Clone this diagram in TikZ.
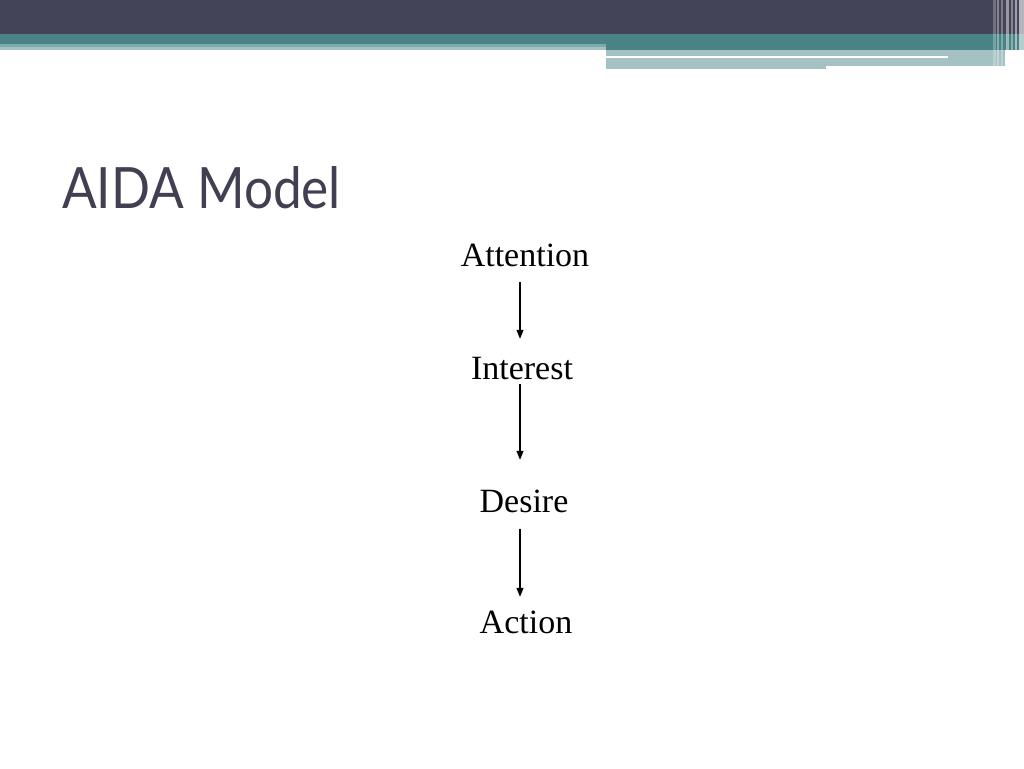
\documentclass[tikz,border=0pt]{standalone}
\usepackage{fontspec}
\setmainfont{Liberation Serif}
\newfontfamily\titlefont{Lato}
\usetikzlibrary{arrows.meta}
\definecolor{darkbar}{HTML}{444458}
\definecolor{tealbar}{HTML}{4A8385}
\definecolor{lightbar}{HTML}{A4C1C4}
\definecolor{midbar}{HTML}{7FAAAD}
\definecolor{titlecol}{HTML}{404052}
\tikzset{
  word/.style={inner sep=0pt, anchor=base, font=\fontsize{34}{40}\selectfont, text height=23pt, text depth=0pt},
  arr/.style={line width=1.1pt, -{Triangle[length=9pt,width=7pt]}},
}
\begin{document}
\begin{tikzpicture}[x=1pt,y=-1pt]
\useasboundingbox (0,0) rectangle (1024,768);
\fill[white] (0,0) rectangle (1024,768);
% header
\fill[darkbar] (0,0) rectangle (1024,34);
\fill[tealbar] (0,34) rectangle (1024,50);
\fill[midbar] (0,44) rectangle (606,47);
\fill[lightbar] (0,47) rectangle (606,50);
\fill[lightbar] (606,50) rectangle (1005,66);
\fill[lightbar] (606,66) rectangle (826,69);
\fill[white] (606,56) rectangle (948,58);
% right stripes
\fill[white,opacity=0.25] (993,0) rectangle (996,69);
\fill[white,opacity=0.35] (997,0) rectangle (999,69);
\fill[white,opacity=0.3] (1001,0) rectangle (1003,69);
\fill[white,opacity=0.45] (1006,0) rectangle (1009,69);
\fill[white,opacity=0.35] (1011,0) rectangle (1013,69);
\fill[white,opacity=0.5] (1015,0) rectangle (1017,69);
\fill[white,opacity=0.6] (1019,0) rectangle (1024,69);
% title
\node[anchor=base west, inner sep=0pt, text=titlecol, xscale=0.9, font=\titlefont\fontsize{57}{64}\selectfont] (title) at (62,208) {AIDA Model};
% words
\node[word] (att) at (525,266) {Attention};
\node[word] (int) at (522,379) {Interest};
\node[word] (des) at (524,512) {Desire};
\node[word] (act) at (526,633) {Action};
\coordinate (ax) at (520,0);
\draw[arr, shorten <=16pt, shorten >=17pt] (att.south -| ax) -- (int.north -| ax);
\draw[arr, shorten <=5pt, shorten >=29pt] (int.south -| ax) -- (des.north -| ax);
\draw[arr, shorten <=17pt, shorten >=13pt] (des.south -| ax) -- (act.north -| ax);
\end{tikzpicture}
\end{document}
